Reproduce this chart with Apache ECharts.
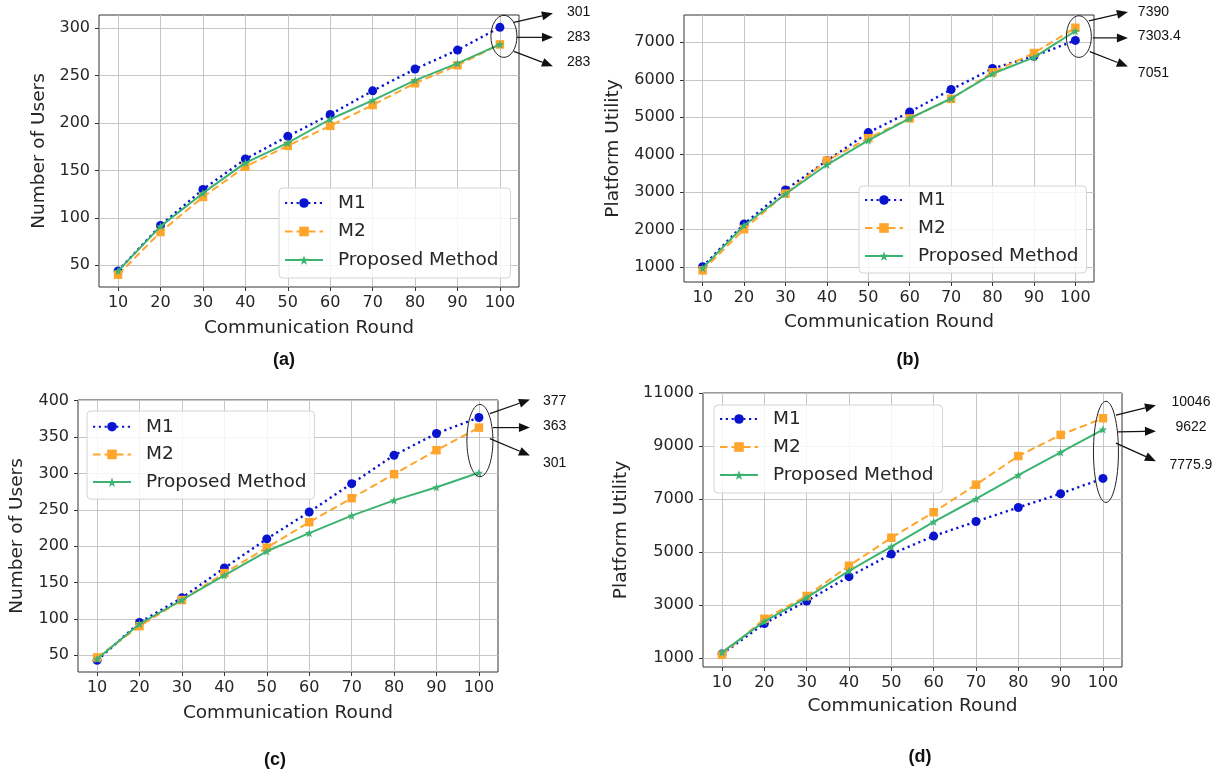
<!DOCTYPE html>
<html>
<head>
<meta charset="utf-8">
<script src="https://cdn.jsdelivr.net/npm/echarts@6/dist/echarts.min.js"></script>
<style>
html,body{margin:0;padding:0;background:#fff;}
#main{width:1227px;height:777px;}
</style>
</head>
<body>
<div id="main"></div>
<script>
// ---------------- data ----------------
const rounds = [10, 20, 30, 40, 50, 60, 70, 80, 90, 100];
const seriesNames = ['M1', 'M2', 'Proposed Method'];

// (a) Number of Users
const aM1   = [44, 92, 130, 162, 186, 209, 234, 257, 277, 301];
const aM2   = [40, 85, 122, 154, 176, 197, 219, 242, 261, 283];
const aProp = [44, 91, 126, 158, 179, 204, 224, 245, 263, 283];
// (b) Platform Utility
const bM1   = [1010, 2150, 3060, 3840, 4590, 5140, 5740, 6300, 6630, 7051];
const bM2   = [910, 2010, 2960, 3840, 4440, 4970, 5490, 6200, 6715, 7390];
const bProp = [970, 2110, 2950, 3730, 4380, 4970, 5500, 6160, 6600, 7303.4];
// (c) Number of Users
const cM1   = [43, 95, 129, 170, 210, 247, 286, 325, 355, 377];
const cM2   = [47, 90, 126, 163, 198, 233, 266, 299, 332, 363];
const cProp = [45, 93, 126, 160, 193, 218, 242, 263, 281, 301];
// (d) Platform Utility
const dM1   = [1150, 2300, 3150, 4070, 4920, 5600, 6150, 6680, 7200, 7775.9];
const dM2   = [1120, 2480, 3340, 4480, 5540, 6500, 7540, 8620, 9420, 10046];
const dProp = [1210, 2380, 3280, 4290, 5200, 6140, 7000, 7900, 8760, 9622];

// tick labels
const xTicks  = [10, 20, 30, 40, 50, 60, 70, 80, 90, 100];
const aYTicks = [50, 100, 150, 200, 250, 300];
const bYTicks = [1000, 2000, 3000, 4000, 5000, 6000, 7000];
const cYTicks = [50, 100, 150, 200, 250, 300, 350, 400];
const dYTicks = [1000, 3000, 5000, 7000, 9000, 11000];

// annotation labels (values shown next to arrows)
const aNotes = ['301', '283', '283'];
const bNotes = ['7390', '7303.4', '7051'];
const cNotes = ['377', '363', '301'];
const dNotes = ['10046', '9622', '7775.9'];

const panelTitles = ['(a)', '(b)', '(c)', '(d)'];
const yNames = ['Number of Users', 'Platform Utility', 'Number of Users', 'Platform Utility'];
const xName = 'Communication Round';

// ---------------- layout / style ----------------
const panels = [
  { vals: [aM1, aM2, aProp], yTicks: aYTicks, notes: aNotes, yMin: 27,  yMax: 314,
    grid: {left: 99, top: 15, width: 420, height: 272}, yGap: 50, xGap: 32,
    legend: {left: 279, top: 188, padding: [4, 12, 7, 5], itemGap: 6.5},
    title: [284, 360],
    ell: {dx: 4, rx: 13, padTop: 12, padBot: 13},
    arrows: [[10, -14, 49, -23], [13, 1, 49, 1], [10, 15, 49, 30]],
    labels: [[63, -24], [63, 1], [63, 26]], align: 'left' },
  { vals: [bM1, bM2, bProp], yTicks: bYTicks, notes: bNotes, yMin: 600, yMax: 7730,
    grid: {left: 684, top: 15, width: 410, height: 267}, yGap: 61, xGap: 31,
    legend: {left: 859, top: 186, padding: [3, 8, 6, 5], itemGap: 6},
    title: [908, 360],
    ell: {dx: 3.5, rx: 12.5, padTop: 12, padBot: 17},
    arrows: [[10, -15.7, 49, -24.7], [14, 1.3, 49, 1.3], [11, 15, 49, 30]],
    labels: [[59, -24.7], [59, 0], [59, 37]], align: 'left' },
  { vals: [cM1, cM2, cProp], yTicks: cYTicks, notes: cNotes, yMin: 27, yMax: 401,
    grid: {left: 78, top: 400, width: 420, height: 272}, yGap: 51, xGap: 32,
    legend: {left: 87, top: 411, padding: [4.7, 8, 6, 5], itemGap: 5.7},
    title: [275, 760],
    ell: {dx: 1, rx: 13, padTop: 13, padBot: 4},
    arrows: [[10, -27, 50, -41], [13, -13, 50, -13], [10, -2, 50, 15]],
    labels: [[63, -39], [63, -14], [63, 23]], align: 'left' },
  { vals: [dM1, dM2, dProp], yTicks: dYTicks, notes: dNotes, yMin: 660, yMax: 11000,
    grid: {left: 703, top: 393, width: 419, height: 274}, yGap: 72, xGap: 30,
    legend: {left: 714, top: 405, padding: [3, 9, 7, 5], itemGap: 6},
    title: [920, 757],
    ell: {dx: 3, rx: 12.5, padTop: 17, padBot: 24},
    arrows: [[10, -36.7, 50, -46.7], [12, -20, 50, -20.7], [10, -8.7, 50, 9.3]],
    labels: [[85, -50], [85, -24.7], [85, 13.3]], align: 'center' }
];

const colors = ['#0a14cf', '#ffa52c', '#3cb371'];
const starPath = 'path://M0,-10 L2.35,-3.24 L9.51,-3.09 L3.8,1.24 L5.88,8.09 L0,4 L-5.88,8.09 L-3.8,1.24 L-9.51,-3.09 L-2.35,-3.24 Z';
const symbols = ['circle', 'rect', starPath];
const symbolSizes = [9, 8.5, 8.5];
const lineTypes = [[2.2, 3.6], [7.5, 4], 'solid'];
const lineWidths = [2.4, 2, 2];
const FONT = "'DejaVu Sans', sans-serif";
const TXT = '#262626';
const plain = v => String(v);

const grids = [], xAxes = [], yAxes = [], legends = [], series = [];
panels.forEach((p, i) => {
  grids.push(Object.assign({show: true, borderColor: '#333', borderWidth: 1, backgroundColor: 'transparent'}, p.grid));
  xAxes.push({
    type: 'value', gridIndex: i, min: 5.5, max: 104.5,
    name: xName, nameLocation: 'middle', nameGap: p.xGap,
    nameTextStyle: {fontFamily: FONT, fontSize: 18.5, color: TXT},
    axisLine: {show: false},
    axisTick: {show: true, length: 4, customValues: xTicks, lineStyle: {color: '#333'}},
    axisLabel: {customValues: xTicks, formatter: plain, margin: 8, fontFamily: FONT, fontSize: 16, color: TXT},
    splitLine: {show: true, lineStyle: {color: '#c6c6c6', width: 1}}
  });
  yAxes.push({
    type: 'value', gridIndex: i, min: p.yMin, max: p.yMax,
    name: yNames[i], nameLocation: 'middle', nameGap: p.yGap,
    nameTextStyle: {fontFamily: FONT, fontSize: 18.5, color: TXT},
    axisLine: {show: false},
    axisTick: {show: true, length: 4, customValues: p.yTicks, lineStyle: {color: '#333'}},
    axisLabel: {customValues: p.yTicks, formatter: plain, margin: 9, fontFamily: FONT, fontSize: 16, color: TXT},
    splitLine: {show: true, lineStyle: {color: '#c6c6c6', width: 1}}
  });
  legends.push({
    left: p.legend.left, top: p.legend.top, orient: 'vertical',
    data: seriesNames, selectedMode: false,
    itemWidth: 38, itemHeight: 12, itemGap: p.legend.itemGap,
    padding: p.legend.padding,
    backgroundColor: 'rgba(255,255,255,0.82)', borderColor: '#d4d4d4', borderWidth: 1, borderRadius: 4,
    textStyle: {fontFamily: FONT, fontSize: 18.5, color: TXT, lineHeight: 22, padding: [0, 0, 0, 10]}
  });
  p.vals.forEach((v, k) => {
    series.push({
      type: 'line', name: seriesNames[k], xAxisIndex: i, yAxisIndex: i,
      data: rounds.map((r, j) => [r, v[j]]),
      symbol: symbols[k], symbolSize: symbolSizes[k], showAllSymbol: true,
      color: colors[k],
      itemStyle: {color: colors[k]},
      lineStyle: {color: colors[k], width: lineWidths[k], type: lineTypes[k]},
      animation: false, z: 3 + k, silent: true
    });
  });
});

const chart = echarts.init(document.getElementById('main'), null, {renderer: 'canvas'});
chart.setOption({
  backgroundColor: '#ffffff',
  animation: false,
  grid: grids, xAxis: xAxes, yAxis: yAxes, legend: legends, series: series
});

// ---------------- annotations ----------------
const graphics = [];
function arrow(x1, y1, x2, y2) {
  const ang = Math.atan2(y2 - y1, x2 - x1);
  const L = 11, W = 4.5;
  const c = Math.cos(ang), s = Math.sin(ang);
  const bx = x2 - L * c, by = y2 - L * s;
  graphics.push({type: 'line', shape: {x1: x1, y1: y1, x2: bx, y2: by},
    style: {stroke: '#111', lineWidth: 1.2}, silent: true, z: 10});
  graphics.push({type: 'polygon', shape: {points: [[x2, y2], [bx - W * s, by + W * c], [bx + W * s, by - W * c]]},
    style: {fill: '#111'}, silent: true, z: 10});
}
panels.forEach((p, i) => {
  const last = p.vals.map(v => v[v.length - 1]);
  const hi = Math.max.apply(null, last), lo = Math.min.apply(null, last);
  const pHi = chart.convertToPixel({xAxisIndex: i, yAxisIndex: i}, [rounds[rounds.length - 1], hi]);
  const pLo = chart.convertToPixel({xAxisIndex: i, yAxisIndex: i}, [rounds[rounds.length - 1], lo]);
  const top = pHi[1] - p.ell.padTop, bot = pLo[1] + p.ell.padBot;
  const cx = pHi[0] + p.ell.dx, cy = (top + bot) / 2, ry = (bot - top) / 2;
  graphics.push({type: 'ellipse', shape: {cx: cx, cy: cy, rx: p.ell.rx, ry: ry},
    style: {fill: 'none', stroke: '#222', lineWidth: 1}, silent: true, z: 10});
  p.arrows.forEach(a => arrow(cx + a[0], cy + a[1], cx + a[2], cy + a[3]));
  p.labels.forEach((l, k) => {
    graphics.push({type: 'text', x: cx + l[0], y: cy + l[1], silent: true, z: 10,
      style: {text: p.notes[k], fontFamily: "'Liberation Sans', Arial, sans-serif", fontSize: 14,
        fill: '#111', align: p.align, verticalAlign: 'middle'}});
  });
  graphics.push({type: 'text', x: p.title[0], y: p.title[1], silent: true,
    style: {text: panelTitles[i], fontFamily: "'Liberation Sans', Arial, sans-serif", fontSize: 18,
      fontWeight: 'bold', fill: '#111', align: 'center', verticalAlign: 'middle'}});
});
chart.setOption({graphic: graphics});
</script>
</body>
</html>
